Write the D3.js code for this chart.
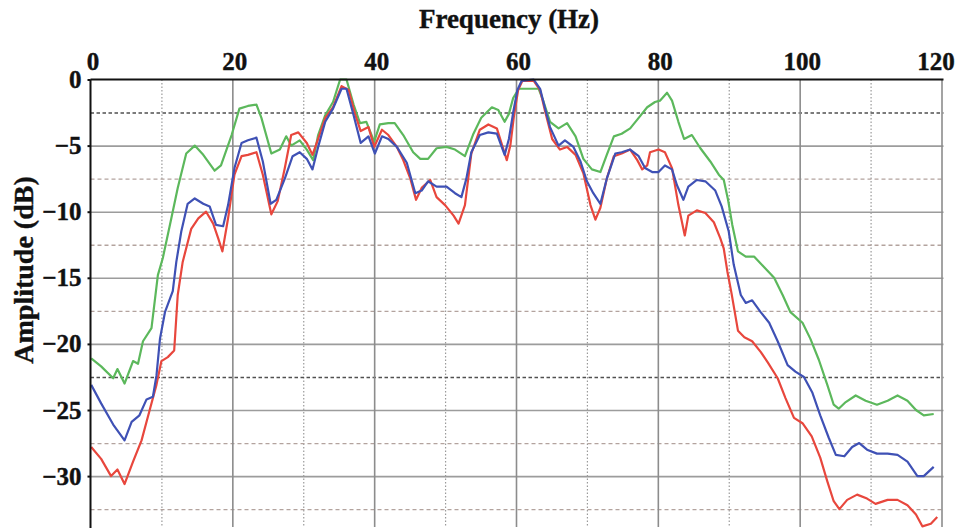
<!DOCTYPE html>
<html>
<head>
<meta charset="utf-8">
<script src="https://cdn.jsdelivr.net/npm/d3@7"></script>
<style>
  body { margin: 0; background: #fff; }
  svg { display: block; }
  .lbl { font-family: "Liberation Serif", "Times New Roman", serif; font-weight: bold; fill: #111; stroke: #111; stroke-width: 0.4px; }
</style>
</head>
<body>
<div id="chart"></div>
<script>
// tick labels
const xTicks = [0, 20, 40, 60, 80, 100, 120];
const yTicks = [0, -5, -10, -15, -20, -25, -30];

// [frequency Hz, amplitude dB]
const greenData = [
  [0.1,-21.1],[1.5,-21.7],[3.2,-22.6],[3.8,-21.9],[4.8,-23.0],[6.0,-21.3],[6.7,-21.5],[7.4,-19.8],[8.6,-18.8],
  [9.5,-14.8],[10.2,-13.5],[11.4,-10.5],[12.3,-8.2],[13.5,-5.6],[14.7,-5.0],[15.9,-5.7],[17.5,-6.9],[18.4,-6.5],
  [19.9,-4.2],[21.0,-2.2],[22.2,-2.0],[23.4,-1.9],[24.1,-2.9],[25.5,-5.6],[26.7,-5.3],[27.6,-4.3],[28.3,-5.0],
  [29.5,-4.6],[30.5,-5.3],[31.4,-6.1],[32.1,-4.2],[33.1,-2.7],[34.2,-1.7],[35.2,0],[36.1,0],[37.1,-1.9],
  [38.0,-3.3],[38.9,-3.2],[40.0,-4.7],[40.8,-3.4],[42.0,-3.3],[42.9,-3.3],[44.1,-4.2],[45.5,-5.5],[46.5,-6.0],
  [47.6,-6.0],[48.8,-5.2],[50.2,-5.1],[51.4,-5.3],[52.8,-5.8],[54.0,-4.1],[55.1,-2.9],[56.6,-2.1],[57.5,-2.3],
  [58.4,-3.2],[59.0,-2.6],[59.6,-1.4],[60.4,-0.7],[61.8,-0.7],[63.2,-0.7],[63.9,-1.7],[64.8,-3.2],[66.0,-3.7],
  [67.2,-3.3],[68.4,-4.3],[69.5,-6.0],[70.7,-6.8],[71.9,-7.0],[72.8,-5.7],[73.8,-4.3],[74.9,-4.1],[76.1,-3.7],
  [77.3,-2.9],[78.5,-2.1],[79.6,-1.7],[80.3,-1.6],[81.3,-1.0],[82.0,-1.6],[82.9,-3.2],[83.7,-4.5],[84.8,-4.2],
  [86.0,-5.2],[87.4,-6.2],[88.6,-7.2],[89.3,-7.6],[89.9,-9.1],[90.5,-11.0],[91.3,-13.0],[92.4,-13.4],[93.6,-13.4],
  [95.0,-14.2],[96.4,-15.0],[97.6,-16.3],[98.7,-17.6],[100.4,-18.4],[101.5,-19.6],[102.7,-21.2],[103.9,-23.1],
  [104.8,-24.6],[105.5,-24.9],[106.5,-24.4],[107.9,-23.9],[109.3,-24.3],[110.9,-24.6],[112.4,-24.3],[113.8,-23.9],
  [115.2,-24.3],[116.4,-25.0],[117.5,-25.4],[118.9,-25.3]
];

const blueData = [
  [0.1,-23.1],[1.5,-24.5],[3.2,-26.1],[4.8,-27.3],[5.8,-25.9],[6.9,-25.4],[7.9,-24.2],[8.8,-24.0],[9.3,-22.4],
  [9.8,-19.6],[10.5,-17.6],[11.6,-16.0],[12.1,-13.8],[12.8,-11.5],[13.7,-9.4],[14.7,-9.0],[15.9,-9.4],[16.8,-9.6],
  [17.7,-11.0],[18.7,-11.1],[19.4,-9.5],[20.3,-6.7],[21.3,-4.8],[22.2,-4.6],[23.4,-4.4],[24.3,-6.2],[25.4,-9.4],
  [26.2,-9.1],[27.4,-7.5],[28.5,-5.8],[29.5,-5.5],[30.5,-6.0],[31.3,-6.8],[32.1,-5.1],[33.1,-3.2],[34.2,-2.2],
  [35.4,-0.7],[36.1,-0.7],[37.1,-2.7],[38.1,-4.8],[39.2,-4.3],[40.1,-5.6],[41.1,-4.3],[42.0,-4.5],[43.2,-5.1],
  [44.6,-6.3],[45.8,-8.6],[46.7,-8.4],[47.6,-7.7],[48.8,-8.1],[50.2,-8.1],[51.4,-8.6],[52.3,-8.9],[53.0,-7.5],
  [53.7,-5.5],[54.9,-4.2],[56.1,-4.0],[57.3,-4.1],[58.4,-5.7],[59.0,-4.5],[59.6,-2.5],[60.2,-0.8],[60.8,-0.1],
  [62.5,0],[63.4,-0.7],[64.1,-2.2],[64.8,-3.6],[66.0,-5.0],[66.9,-4.6],[68.1,-5.1],[69.1,-6.2],[70.0,-7.7],
  [70.9,-8.6],[71.9,-9.4],[72.8,-7.5],[74.0,-5.6],[74.9,-5.5],[76.1,-5.3],[77.3,-5.8],[78.2,-6.7],[79.2,-7.0],
  [80.1,-7.0],[81.0,-6.5],[82.0,-6.8],[82.7,-8.0],[83.6,-9.1],[84.3,-8.1],[85.5,-7.6],[86.7,-7.7],[88.1,-8.4],
  [89.0,-9.6],[90.0,-11.5],[90.7,-14.0],[91.7,-16.3],[92.4,-16.9],[93.3,-16.7],[94.5,-17.6],[95.7,-18.4],
  [96.9,-19.8],[98.3,-21.6],[99.4,-22.1],[100.6,-22.5],[101.8,-23.7],[102.9,-25.4],[104.1,-27.1],[105.1,-28.4],
  [106.3,-28.5],[107.4,-27.8],[108.4,-27.5],[109.5,-28.0],[110.9,-28.3],[112.4,-28.3],[113.8,-28.4],[115.2,-28.9],
  [116.6,-30.0],[117.5,-30.0],[118.9,-29.3]
];

const redData = [
  [0.1,-27.8],[1.5,-28.7],[2.9,-30.0],[3.8,-29.5],[4.8,-30.6],[6.0,-28.9],[7.2,-27.3],[8.3,-25.1],[9.3,-23.1],
  [10.0,-21.3],[10.9,-21.0],[11.8,-20.5],[12.3,-16.3],[13.0,-13.8],[14.2,-11.3],[15.2,-10.5],[16.3,-10.0],
  [17.3,-10.9],[18.0,-12.0],[18.6,-13.0],[19.4,-10.5],[20.3,-7.2],[21.3,-5.8],[22.2,-5.7],[23.4,-5.5],[24.3,-7.2],
  [25.5,-10.2],[26.4,-9.2],[27.4,-6.7],[28.3,-4.2],[29.3,-4.0],[30.5,-4.8],[31.3,-5.7],[32.1,-4.5],[33.1,-2.9],
  [34.2,-2.1],[35.4,-0.5],[36.4,-0.8],[37.3,-2.6],[38.1,-3.9],[39.2,-3.6],[40.0,-5.1],[41.1,-3.8],[42.0,-4.2],
  [43.2,-5.1],[44.1,-6.1],[45.1,-7.5],[45.9,-9.1],[46.7,-8.2],[47.9,-7.6],[48.8,-8.9],[50.0,-9.5],[51.2,-10.3],
  [51.9,-10.9],[52.8,-9.5],[53.7,-5.6],[54.9,-3.8],[56.1,-3.4],[57.3,-3.7],[58.7,-6.1],[59.2,-5.0],[59.7,-2.8],
  [60.3,-0.8],[60.9,-0.1],[62.5,-0.1],[63.4,-0.8],[64.1,-2.4],[65.1,-4.5],[66.2,-5.3],[67.2,-5.1],[68.4,-5.7],
  [69.5,-7.1],[70.5,-9.5],[71.2,-10.6],[71.9,-9.7],[72.8,-7.5],[73.8,-5.8],[74.9,-5.6],[76.1,-5.3],[77.1,-6.1],
  [77.8,-6.8],[78.5,-6.5],[78.9,-5.5],[80.1,-5.3],[81.0,-5.5],[82.0,-6.7],[82.9,-9.5],[83.8,-11.8],[84.3,-10.3],
  [85.5,-9.9],[86.7,-10.1],[87.9,-10.8],[88.8,-12.0],[89.3,-12.8],[89.8,-14.5],[90.4,-16.2],[91.3,-19.0],
  [92.2,-19.5],[93.3,-19.8],[94.5,-20.6],[95.5,-21.4],[96.9,-22.6],[98.0,-24.1],[99.2,-25.6],[100.4,-26.0],
  [101.7,-27.0],[102.9,-28.6],[103.9,-30.4],[104.8,-31.9],[105.6,-32.5],[106.7,-31.8],[108.1,-31.4],[109.5,-31.7],
  [110.7,-32.1],[112.4,-31.8],[113.8,-31.8],[115.2,-32.2],[116.4,-32.9],[117.3,-33.8],[118.5,-33.6],[119.4,-33.1]
];

const series = [
  { name: 'green', color: '#5cb85c', data: greenData },
  { name: 'red', color: '#e8473d', data: redData },
  { name: 'blue', color: '#3f51b5', data: blueData }
];

const width = 961, height = 528;
const plotLeft = 90.5, plotRight = 941.5, plotTop = 79.5, plotBottom = 527;

const svg = d3.select('#chart').append('svg')
  .attr('width', width)
  .attr('height', height);

const x = d3.scaleLinear().domain([0, 120]).range([plotLeft, plotRight]);
const y = d3.scaleLinear().domain([0, -33.85]).range([plotTop, plotBottom]);

// grid
const gridV = (vals, cls) => svg.append('g')
  .attr('class', cls)
  .attr('transform', `translate(0,${plotTop})`)
  .call(d3.axisBottom(x).tickValues(vals).tickSize(plotBottom - plotTop).tickFormat(''))
  .call(g => g.select('.domain').remove());

const gridH = (vals, cls) => svg.append('g')
  .attr('class', cls)
  .attr('transform', `translate(${plotLeft},0)`)
  .call(d3.axisRight(y).tickValues(vals).tickSize(plotRight - plotLeft + 2).tickFormat(''))
  .call(g => g.select('.domain').remove());

gridV([10, 30, 50, 70, 90, 110], 'vDot').selectAll('line')
  .attr('stroke', '#9a9a9a').attr('stroke-width', 1.2).attr('stroke-dasharray', '1.5,2');
gridH([-7.5, -12.5, -17.5, -27.5, -32.5], 'hDashLight').selectAll('line')
  .attr('stroke', '#b3a39e').attr('stroke-width', 1.3).attr('stroke-dasharray', '4,3');
gridH([-2.5, -22.5], 'hDashDark').selectAll('line')
  .attr('stroke', '#505050').attr('stroke-width', 1.6).attr('stroke-dasharray', '3.5,2.5');
gridH([-5, -10, -15, -20, -25, -30], 'hSolid').selectAll('line')
  .attr('stroke', '#9c9c9c').attr('stroke-width', 1.6);
gridV([20, 40, 60, 80, 100, 120], 'vSolid').selectAll('line')
  .attr('stroke', '#8c8c8c').attr('stroke-width', 1.6);

// curves
svg.append('clipPath').attr('id', 'plotClip')
  .append('rect').attr('x', plotLeft).attr('y', plotTop - 2)
  .attr('width', plotRight - plotLeft + 4).attr('height', plotBottom - plotTop + 4);

const line = d3.line()
  .x(d => x(d[0]))
  .y(d => y(d[1]))
  .curve(d3.curveLinear);

svg.append('g').attr('clip-path', 'url(#plotClip)')
  .selectAll('path')
  .data(series)
  .join('path')
  .attr('fill', 'none')
  .attr('stroke', d => d.color)
  .attr('stroke-width', 2.2)
  .attr('stroke-linejoin', 'round')
  .attr('d', d => line(d.data));

// axes
const xAxis = svg.append('g')
  .attr('transform', `translate(0,${plotTop})`)
  .call(d3.axisTop(x).tickValues(xTicks).tickSize(0).tickPadding(10).tickFormat(d3.format('d')));
xAxis.select('.domain').attr('stroke', '#111').attr('stroke-width', 2).attr('d', `M${plotLeft},0H${plotRight + 2}`);
xAxis.selectAll('text')
  .attr('class', 'lbl')
  .style('font-size', '25px')
  .attr('dx', (d, i) => i === xTicks.length - 1 ? -6 : 2);

const yAxis = svg.append('g')
  .attr('transform', `translate(${plotLeft},0)`)
  .call(d3.axisLeft(y).tickValues(yTicks).tickSize(3).tickPadding(6).tickFormat(d3.format('d')));
yAxis.select('.domain').attr('stroke', '#111').attr('stroke-width', 2).attr('d', `M0,${plotTop}V${height}`);
yAxis.selectAll('.tick line').attr('stroke', '#111').attr('stroke-width', 2);
yAxis.selectAll('text')
  .attr('class', 'lbl')
  .style('font-size', '25px');

// titles
svg.append('text')
  .attr('class', 'lbl')
  .attr('x', 509)
  .attr('y', 28)
  .attr('text-anchor', 'middle')
  .style('font-size', '27px')
  .text('Frequency (Hz)');

svg.append('text')
  .attr('class', 'lbl')
  .attr('transform', 'translate(33,270) rotate(-90)')
  .attr('text-anchor', 'middle')
  .style('font-size', '28px')
  .text('Amplitude (dB)');
</script>
</body>
</html>
